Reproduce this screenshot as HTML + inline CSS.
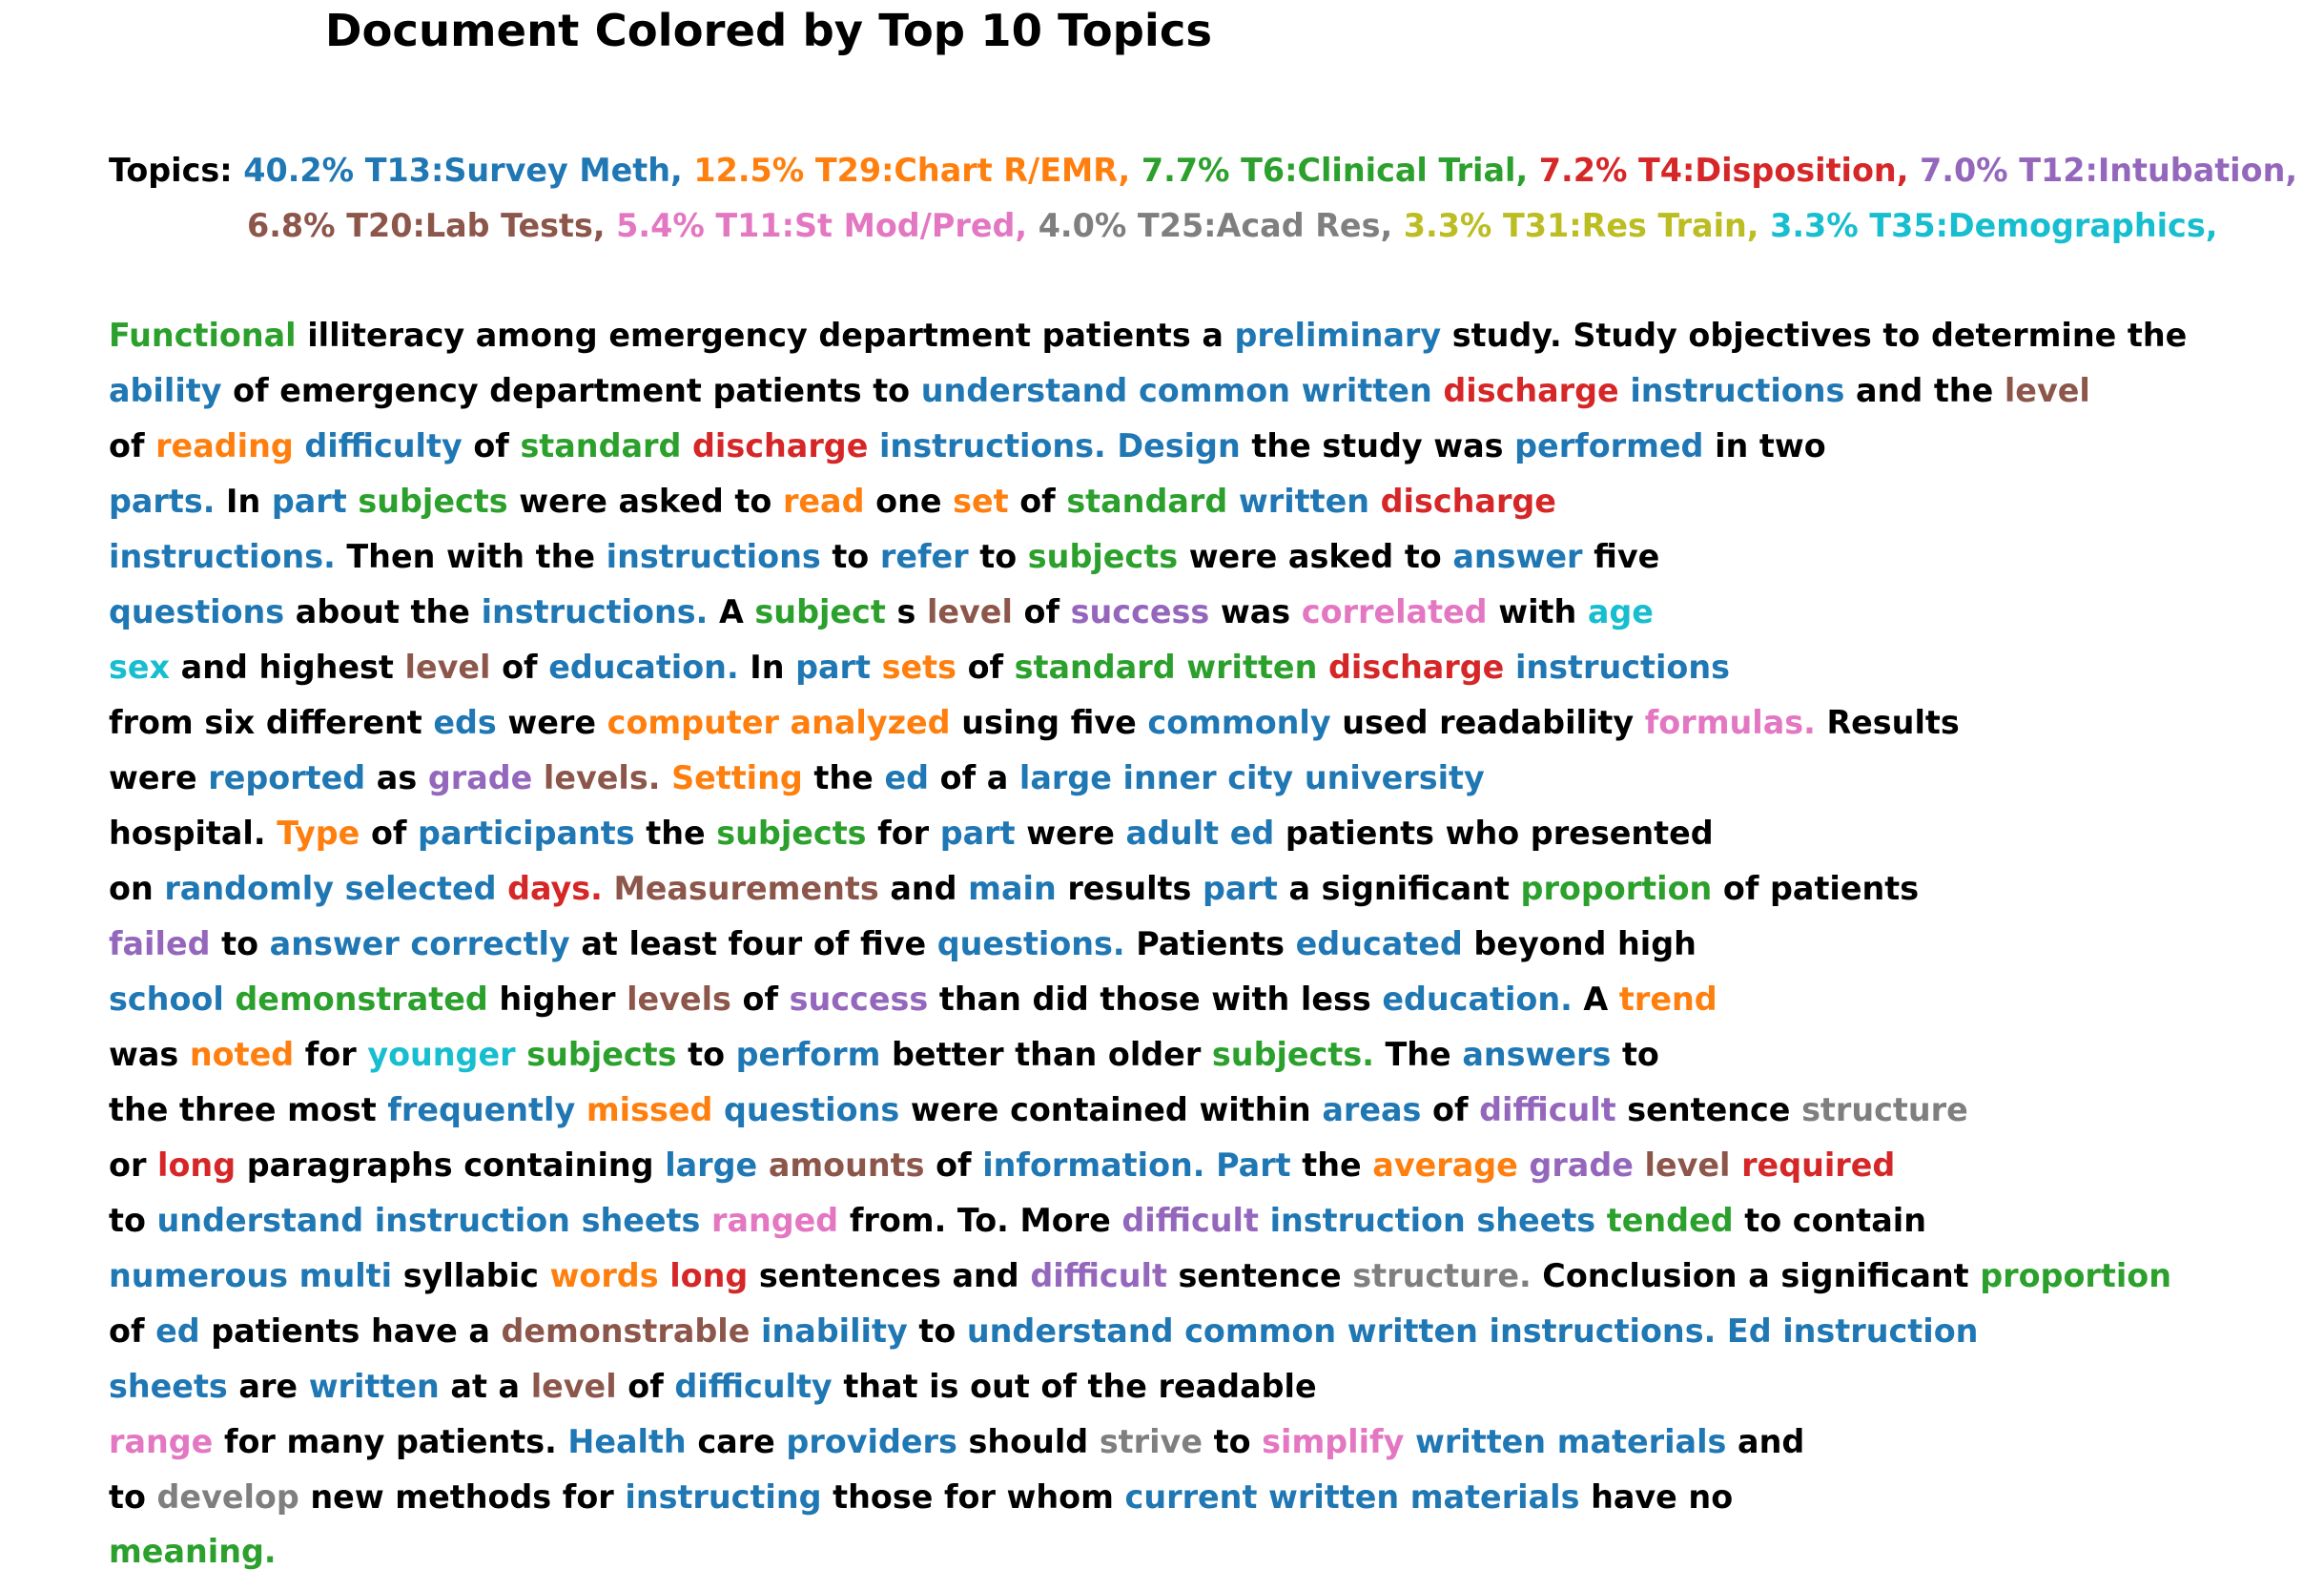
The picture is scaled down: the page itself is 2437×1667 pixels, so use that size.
<!DOCTYPE html>
<html><head><meta charset="utf-8"><style>
html,body{margin:0;padding:0;background:#fff;}
svg{display:block;}
text{font-family:"DejaVu Sans","Liberation Sans",sans-serif;font-weight:bold;font-size:33.4px;fill:#000;}
.b{fill:#1f77b4}.o{fill:#ff7f0e}.g{fill:#2ca02c}.r{fill:#d62728}.p{fill:#9467bd}
.br{fill:#8c564b}.pk{fill:#e377c2}.gr{fill:#7f7f7f}.ol{fill:#bcbd22}.c{fill:#17becf}
</style></head><body>
<svg width="2437" height="1667" viewBox="0 0 2437 1667">
<text x="806" y="48" text-anchor="middle" style="font-size:46.5px">Document Colored by Top 10 Topics</text>
<g>
<text x="114" y="190">Topics: <tspan class="b">40.2% T13:Survey Meth,</tspan> <tspan class="o">12.5% T29:Chart R/EMR,</tspan> <tspan class="g">7.7% T6:Clinical Trial,</tspan> <tspan class="r">7.2% T4:Disposition,</tspan> <tspan class="p">7.0% T12:Intubation,</tspan></text>
<text x="259" y="248"><tspan class="br">6.8% T20:Lab Tests,</tspan> <tspan class="pk">5.4% T11:St Mod/Pred,</tspan> <tspan class="gr">4.0% T25:Acad Res,</tspan> <tspan class="ol">3.3% T31:Res Train,</tspan> <tspan class="c">3.3% T35:Demographics,</tspan></text>
</g>
<g>
<text x="114" y="363"><tspan class="g">Functional</tspan> illiteracy among emergency department patients a <tspan class="b">preliminary</tspan> study. Study objectives to determine the</text>
<text x="114" y="421"><tspan class="b">ability</tspan> of emergency department patients to <tspan class="b">understand common written</tspan> <tspan class="r">discharge</tspan> <tspan class="b">instructions</tspan> and the <tspan class="br">level</tspan></text>
<text x="114" y="479">of <tspan class="o">reading</tspan> <tspan class="b">difficulty</tspan> of <tspan class="g">standard</tspan> <tspan class="r">discharge</tspan> <tspan class="b">instructions. Design</tspan> the study was <tspan class="b">performed</tspan> in two</text>
<text x="114" y="537"><tspan class="b">parts.</tspan> In <tspan class="b">part</tspan> <tspan class="g">subjects</tspan> were asked to <tspan class="o">read</tspan> one <tspan class="o">set</tspan> of <tspan class="g">standard</tspan> <tspan class="b">written</tspan> <tspan class="r">discharge</tspan></text>
<text x="114" y="595"><tspan class="b">instructions.</tspan> Then with the <tspan class="b">instructions</tspan> to <tspan class="b">refer</tspan> to <tspan class="g">subjects</tspan> were asked to <tspan class="b">answer</tspan> five</text>
<text x="114" y="653"><tspan class="b">questions</tspan> about the <tspan class="b">instructions.</tspan> A <tspan class="g">subject</tspan> s <tspan class="br">level</tspan> of <tspan class="p">success</tspan> was <tspan class="pk">correlated</tspan> with <tspan class="c">age</tspan></text>
<text x="114" y="711"><tspan class="c">sex</tspan> and highest <tspan class="br">level</tspan> of <tspan class="b">education.</tspan> In <tspan class="b">part</tspan> <tspan class="o">sets</tspan> of <tspan class="g">standard written</tspan> <tspan class="r">discharge</tspan> <tspan class="b">instructions</tspan></text>
<text x="114" y="769">from six different <tspan class="b">eds</tspan> were <tspan class="o">computer analyzed</tspan> using five <tspan class="b">commonly</tspan> used readability <tspan class="pk">formulas.</tspan> Results</text>
<text x="114" y="827">were <tspan class="b">reported</tspan> as <tspan class="p">grade</tspan> <tspan class="br">levels.</tspan> <tspan class="o">Setting</tspan> the <tspan class="b">ed</tspan> of a <tspan class="b">large inner city university</tspan></text>
<text x="114" y="885">hospital. <tspan class="o">Type</tspan> of <tspan class="b">participants</tspan> the <tspan class="g">subjects</tspan> for <tspan class="b">part</tspan> were <tspan class="b">adult ed</tspan> patients who presented</text>
<text x="114" y="943">on <tspan class="b">randomly selected</tspan> <tspan class="r">days.</tspan> <tspan class="br">Measurements</tspan> and <tspan class="b">main</tspan> results <tspan class="b">part</tspan> a significant <tspan class="g">proportion</tspan> of patients</text>
<text x="114" y="1001"><tspan class="p">failed</tspan> to <tspan class="b">answer correctly</tspan> at least four of five <tspan class="b">questions.</tspan> Patients <tspan class="b">educated</tspan> beyond high</text>
<text x="114" y="1059"><tspan class="b">school</tspan> <tspan class="g">demonstrated</tspan> higher <tspan class="br">levels</tspan> of <tspan class="p">success</tspan> than did those with less <tspan class="b">education.</tspan> A <tspan class="o">trend</tspan></text>
<text x="114" y="1117">was <tspan class="o">noted</tspan> for <tspan class="c">younger</tspan> <tspan class="g">subjects</tspan> to <tspan class="b">perform</tspan> better than older <tspan class="g">subjects.</tspan> The <tspan class="b">answers</tspan> to</text>
<text x="114" y="1175">the three most <tspan class="b">frequently</tspan> <tspan class="o">missed</tspan> <tspan class="b">questions</tspan> were contained within <tspan class="b">areas</tspan> of <tspan class="p">difficult</tspan> sentence <tspan class="gr">structure</tspan></text>
<text x="114" y="1233">or <tspan class="r">long</tspan> paragraphs containing <tspan class="b">large</tspan> <tspan class="br">amounts</tspan> of <tspan class="b">information. Part</tspan> the <tspan class="o">average</tspan> <tspan class="p">grade</tspan> <tspan class="br">level</tspan> <tspan class="r">required</tspan></text>
<text x="114" y="1291">to <tspan class="b">understand instruction sheets</tspan> <tspan class="pk">ranged</tspan> from. To. More <tspan class="p">difficult</tspan> <tspan class="b">instruction sheets</tspan> <tspan class="g">tended</tspan> to contain</text>
<text x="114" y="1349"><tspan class="b">numerous multi</tspan> syllabic <tspan class="o">words</tspan> <tspan class="r">long</tspan> sentences and <tspan class="p">difficult</tspan> sentence <tspan class="gr">structure.</tspan> Conclusion a significant <tspan class="g">proportion</tspan></text>
<text x="114" y="1407">of <tspan class="b">ed</tspan> patients have a <tspan class="br">demonstrable</tspan> <tspan class="b">inability</tspan> to <tspan class="b">understand common written instructions. Ed instruction</tspan></text>
<text x="114" y="1465"><tspan class="b">sheets</tspan> are <tspan class="b">written</tspan> at a <tspan class="br">level</tspan> of <tspan class="b">difficulty</tspan> that is out of the readable</text>
<text x="114" y="1523"><tspan class="pk">range</tspan> for many patients. <tspan class="b">Health</tspan> care <tspan class="b">providers</tspan> should <tspan class="gr">strive</tspan> to <tspan class="pk">simplify</tspan> <tspan class="b">written materials</tspan> and</text>
<text x="114" y="1581">to <tspan class="gr">develop</tspan> new methods for <tspan class="b">instructing</tspan> those for whom <tspan class="b">current written materials</tspan> have no</text>
<text x="114" y="1638"><tspan class="g">meaning.</tspan></text>
</g>
</svg>
</body></html>
